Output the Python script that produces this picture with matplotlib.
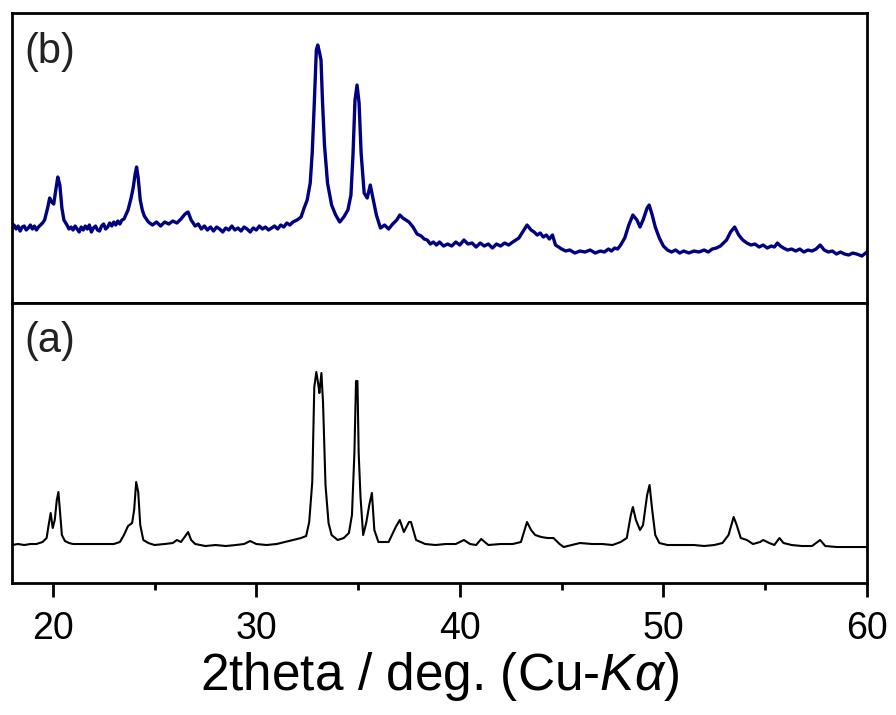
import matplotlib
matplotlib.use("Agg")
import matplotlib.pyplot as plt
from matplotlib.ticker import MultipleLocator

plt.rcParams["font.family"] = ["Liberation Sans", "DejaVu Sans"]
plt.rcParams["mathtext.fontset"] = "custom"
plt.rcParams["mathtext.rm"] = "Liberation Sans"
plt.rcParams["mathtext.it"] = "Liberation Sans:italic"

# (b) pattern: 2theta (deg) and intensity (a.u.)
two_theta_b = [
    18.0, 18.1, 18.2, 18.3, 18.4, 18.5, 18.6, 18.7, 18.8, 18.9, 19.0, 19.1,
    19.2, 19.3, 19.4, 19.5, 19.6, 19.75, 19.85, 19.95,
    20.05, 20.15, 20.25, 20.35, 20.45, 20.55, 20.7, 20.8, 20.9, 21.0, 21.1, 21.2,
    21.3, 21.4, 21.5, 21.6, 21.7, 21.8,
    21.9, 22.0, 22.1, 22.2, 22.3, 22.4, 22.5, 22.6, 22.7, 22.8, 22.9, 23.0,
    23.1, 23.2, 23.3, 23.4, 23.5, 23.7, 23.85, 23.95,
    24.05, 24.12, 24.2, 24.3, 24.4, 24.5, 24.7, 24.9, 25.1, 25.3, 25.5, 25.7,
    25.9, 26.1, 26.3, 26.5, 26.65, 26.8, 27.0, 27.15, 27.3, 27.45, 27.6, 27.75,
    27.9, 28.05, 28.2, 28.35, 28.5, 28.65,
    28.8, 28.95, 29.1, 29.25, 29.4, 29.55, 29.7, 29.85, 30.0, 30.15, 30.3, 30.45,
    30.6, 30.75, 30.9, 31.05, 31.2, 31.35, 31.5, 31.65, 31.8, 32.0,
    32.2, 32.35, 32.5, 32.65, 32.75, 32.85, 32.95, 33.02, 33.1, 33.18, 33.25, 33.35,
    33.5, 33.7, 33.9, 34.1, 34.3, 34.5, 34.65, 34.75, 34.85, 34.95, 35.05, 35.15,
    35.3, 35.45, 35.6, 35.75, 35.9, 36.1, 36.3, 36.5, 36.7, 36.9, 37.05, 37.2,
    37.35, 37.5, 37.7, 37.9, 38.1, 38.25, 38.4, 38.55, 38.7, 38.85, 39.0, 39.2,
    39.4, 39.6, 39.8, 40.0, 40.2, 40.4, 40.6, 40.8,
    41.0, 41.2, 41.4, 41.6, 41.8, 42.0, 42.2, 42.4, 42.6, 42.9, 43.15, 43.3,
    43.5, 43.65, 43.8, 43.95, 44.1, 44.25, 44.4,
    44.55, 44.7, 44.85, 45.0, 45.2, 45.4, 45.65, 45.9, 46.15, 46.4, 46.65, 46.9,
    47.1, 47.3, 47.45, 47.6, 47.75, 47.9, 48.1, 48.3,
    48.5, 48.7, 48.85, 49.0, 49.2, 49.3, 49.45, 49.6, 49.8, 50.0, 50.2, 50.4,
    50.6, 50.8, 51.0, 51.25, 51.5, 51.75, 52.0, 52.2, 52.4, 52.6, 52.8, 53.1,
    53.3, 53.5, 53.7, 53.9, 54.1, 54.3, 54.5, 54.7,
    54.9, 55.1, 55.3, 55.45, 55.6, 55.75, 55.9, 56.1, 56.3, 56.5, 56.7, 56.9,
    57.1, 57.3, 57.5, 57.7, 57.9, 58.1, 58.3, 58.5, 58.7, 58.9,
    59.1, 59.3, 59.5, 59.75, 60.0,
]
intensity_b = [
    32, 35, 31, 34, 29, 33, 34, 30, 32, 35, 31, 34,
    30, 33, 35, 37, 40, 52, 62, 58,
    56, 70, 83, 75, 52, 40, 35, 31, 33, 30, 34, 31,
    28, 33, 30, 34, 31, 35,
    28, 32, 34, 30, 29, 34, 36, 31, 33, 37, 34, 38,
    35, 39, 36, 40, 41, 50, 62, 72,
    86, 93, 82, 60, 50, 44, 38, 35, 38, 34, 38, 36,
    39, 37, 41, 46, 48, 40, 34, 36, 31, 34, 30, 33,
    29, 33, 31, 28, 32, 30,
    34, 30, 32, 29, 33, 31, 28, 32, 30, 34, 31, 33,
    30, 32, 34, 31, 35, 33, 37, 35, 38, 40,
    43, 52, 60, 77, 108, 157, 210, 215, 208, 200, 160, 115,
    77, 55, 45, 38, 43, 50, 65, 105, 160, 175, 157, 107,
    67, 62, 75, 60, 45, 32, 35, 31, 36, 40, 45, 42,
    40, 38, 33, 26, 24, 21, 20, 16, 18, 15, 18, 14,
    16, 14, 18, 15, 20, 16, 17, 13,
    17, 14, 16, 12, 16, 14, 17, 15, 18, 22, 30, 35,
    30, 28, 25, 27, 23, 25, 21,
    25, 15, 13, 11, 9, 10, 7, 9, 8, 10, 7, 9,
    8, 11, 9, 12, 11, 15, 22, 35,
    45, 40, 33, 40, 52, 55, 45, 33, 22, 14, 10, 8,
    10, 7, 9, 7, 9, 8, 10, 8, 11, 12, 14, 20,
    28, 33, 25, 20, 17, 15, 16, 13,
    15, 12, 14, 13, 17, 14, 12, 10, 11, 9, 11, 8,
    10, 9, 11, 15, 10, 8, 9, 6, 8, 6,
    5, 7, 6, 4, 8,
]

# (a) pattern: 2theta (deg) and intensity (a.u.)
two_theta_a = [
    18.0, 18.3, 18.6, 18.9, 19.2, 19.5, 19.7, 19.8, 19.9, 20.0, 20.1, 20.2,
    20.28, 20.35, 20.45, 20.6, 20.8, 21.0, 21.5, 22.0, 22.5, 23.0, 23.3, 23.5,
    23.7, 23.9, 24.0, 24.1, 24.2, 24.3, 24.45, 24.7, 25.0, 25.5, 25.9, 26.1,
    26.3, 26.55, 26.65, 26.8, 27.0, 27.5, 28.0, 28.5, 29.0, 29.4, 29.7, 30.0,
    30.5, 31.0, 31.4, 31.8, 32.2, 32.45, 32.6, 32.75, 32.85, 32.95, 33.05, 33.1,
    33.2, 33.28, 33.4, 33.55, 33.7, 34.0, 34.3, 34.55, 34.7, 34.82, 34.9, 34.97,
    35.03, 35.12, 35.25, 35.4, 35.55, 35.68, 35.8, 36.0, 36.5, 36.85, 37.05, 37.25,
    37.5, 37.6, 37.85, 38.3, 38.8, 39.3, 39.8, 40.2, 40.5, 40.8, 41.05, 41.4,
    42.0, 42.6, 43.0, 43.3, 43.5, 43.7, 44.0, 44.3, 44.6, 44.9, 45.1, 45.5,
    45.9, 46.5, 47.0, 47.5, 47.9, 48.2, 48.4, 48.5, 48.65, 48.85, 49.0, 49.2,
    49.32, 49.45, 49.6, 49.8, 50.2, 50.8, 51.5, 52.0, 52.5, 52.9, 53.2, 53.45,
    53.6, 53.8, 54.1, 54.4, 54.75, 54.9, 55.2, 55.45, 55.7, 55.9, 56.3, 56.8,
    57.3, 57.7, 57.95, 58.5, 59.0, 59.5, 60.0,
]
intensity_a = [
    5, 6, 5, 6, 6, 8, 12, 25, 37, 22, 30, 50,
    58, 40, 15, 9, 7, 6, 6, 6, 6, 6, 8, 15,
    24, 27, 40, 68, 58, 25, 10, 7, 5, 6, 7, 10,
    8, 15, 18, 10, 6, 4, 5, 4, 5, 6, 9, 6,
    5, 6, 8, 10, 12, 14, 28, 68, 163, 178, 165, 157,
    177, 147, 65, 27, 15, 10, 12, 17, 35, 97, 169, 169,
    97, 53, 15, 27, 45, 57, 20, 8, 8, 23, 30, 18,
    28, 28, 10, 6, 5, 6, 6, 10, 6, 5, 11, 5,
    6, 6, 8, 28, 20, 15, 13, 12, 12, 6, 3, 5,
    7, 6, 6, 5, 8, 12, 35, 43, 30, 20, 25, 55,
    65, 40, 15, 7, 5, 5, 5, 4, 5, 7, 15, 33,
    25, 12, 10, 6, 8, 10, 7, 5, 12, 7, 5, 4,
    4, 10, 4, 3, 3, 3, 3,
]

x_ticks = [20, 30, 40, 50, 60]
panel_labels = ["(b)", "(a)"]

fig = plt.figure(figsize=(8.96, 7.15), dpi=100)
ax_b = fig.add_axes([0.0134, 0.5762, 0.9542, 0.4056])
ax_a = fig.add_axes([0.0134, 0.1846, 0.9542, 0.3916], sharex=ax_b)

ax_b.plot(two_theta_b, intensity_b, color="#000080", lw=2.4)
ax_a.plot(two_theta_a, intensity_a, color="black", lw=1.5)

ax_b.set_ylim(-43, 247)
ax_a.set_ylim(-33, 247)
ax_a.set_xlim(18, 60)

for ax, lab in zip((ax_b, ax_a), panel_labels):
    for sp in ax.spines.values():
        sp.set_linewidth(2.0)
    ax.set_yticks([])
    ax.text(0.015, 0.935, lab, transform=ax.transAxes, ha="left", va="top",
            fontsize=30, color="#222222")

ax_b.tick_params(axis="x", which="both", bottom=False, labelbottom=False)
ax_a.set_xticks(x_ticks)
ax_a.xaxis.set_minor_locator(MultipleLocator(5))
ax_a.tick_params(axis="x", which="major", direction="out", length=10, width=2,
                 labelsize=27, pad=10)
ax_a.tick_params(axis="x", which="minor", direction="out", length=5, width=2)
ax_a.set_xlabel(r"2theta / deg. (Cu-$K\alpha$)", fontsize=37, labelpad=2)

fig.savefig("out.png", dpi=100)
